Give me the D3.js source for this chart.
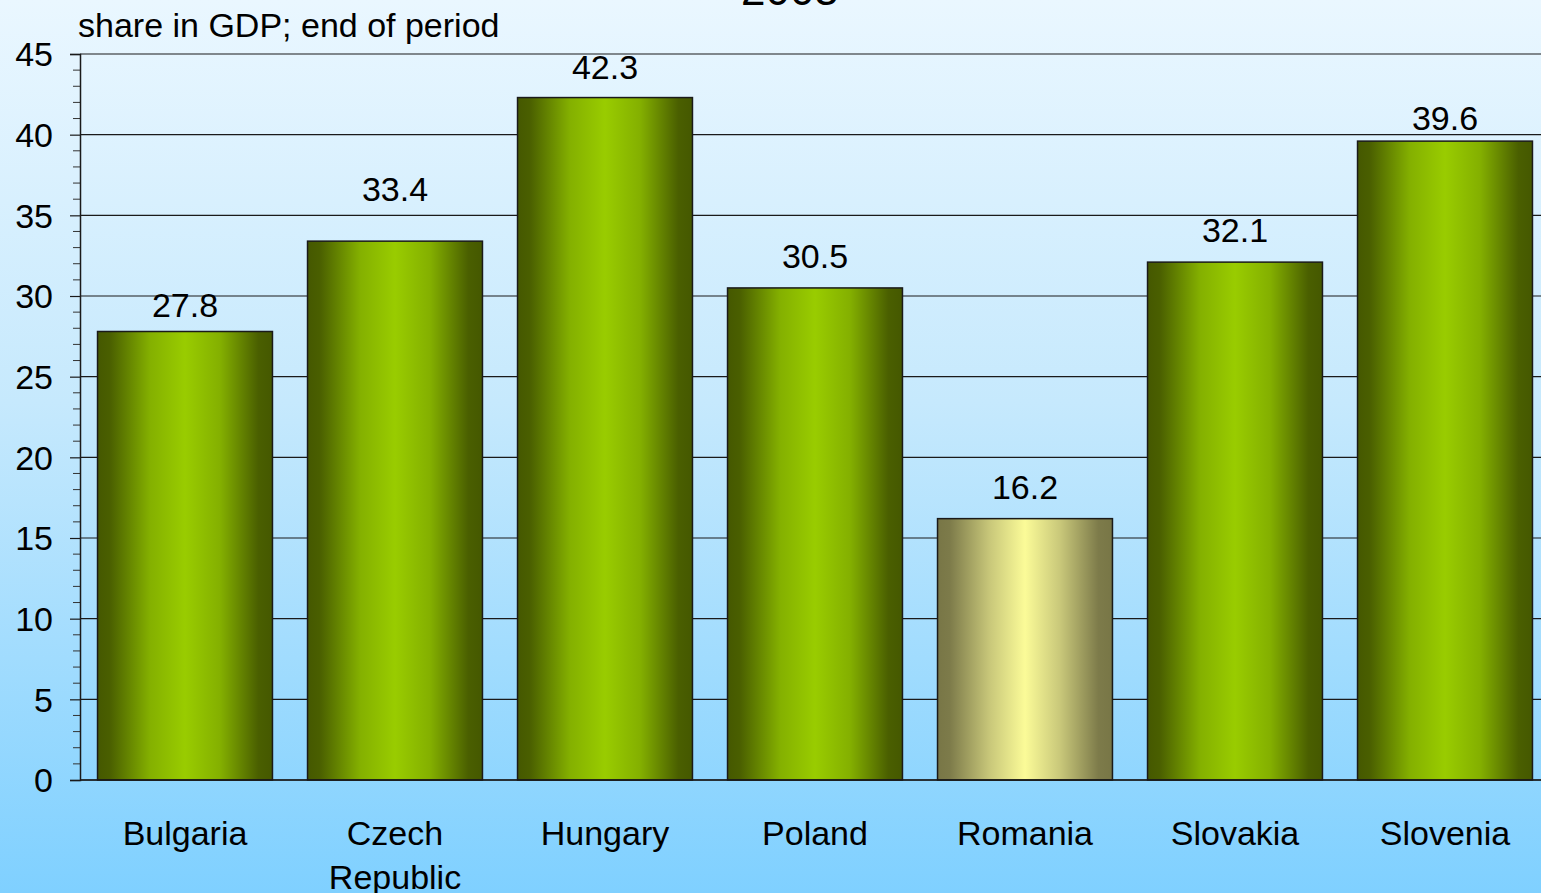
<!DOCTYPE html>
<html><head><meta charset="utf-8">
<script src="https://cdn.jsdelivr.net/npm/d3@7"></script>
<style>html,body{margin:0;padding:0;overflow:hidden;}svg{display:block;}</style>
</head><body>
<svg id="c" width="1541" height="893"></svg>
<script>
const categories = ["Bulgaria", "Czech Republic", "Hungary", "Poland", "Romania", "Slovakia", "Slovenia"];
const values = [27.8, 33.4, 42.3, 30.5, 16.2, 32.1, 39.6];
const highlighted = ["Romania"];
const yTicks = [0, 5, 10, 15, 20, 25, 30, 35, 40, 45];
const title = "2005";
const subtitle = "share in GDP; end of period";
// layout only: gap (px) between bar top and value label baseline, as placed in the original
const labelGap = [14, 40, 19, 20, 20, 20, 11];

const W = 1541, H = 893;
const svg = d3.select("#c");
const defs = svg.append("defs");

const bg = defs.append("linearGradient").attr("id","bg").attr("x1",0).attr("y1",0).attr("x2",0).attr("y2",1);
bg.append("stop").attr("offset","0%").attr("stop-color","#eaf7ff");
bg.append("stop").attr("offset","45%").attr("stop-color","#c6e9fd");
bg.append("stop").attr("offset","100%").attr("stop-color","#7fd0ff");
svg.append("rect").attr("width",W).attr("height",H).attr("fill","url(#bg)");

function hgrad(id, stops){
  const g = defs.append("linearGradient").attr("id",id).attr("x1",0).attr("y1",0).attr("x2",1).attr("y2",0);
  stops.forEach(s=>g.append("stop").attr("offset",s[0]).attr("stop-color",s[1]));
}
hgrad("gGreen",[["0%","#455800"],["7%","#4a5f00"],["30%","#84b000"],["50%","#99cc00"],["70%","#84b000"],["92%","#4a5f00"],["100%","#455800"]]);
hgrad("gYellow",[["0%","#787646"],["7%","#7d7b4a"],["30%","#c9c87a"],["50%","#fbfb98"],["70%","#c9c87a"],["92%","#7d7b4a"],["100%","#787646"]]);

const x0 = 80, x1 = 1550, yTop = 54, yBot = 780;
const x = d3.scaleBand().domain(categories).range([x0, x1]).paddingInner(0.167).paddingOuter(0.0835);
const y = d3.scaleLinear().domain([0,45]).range([yBot, yTop]);

const font = "'Liberation Sans', Arial, sans-serif";

// grid
svg.append("g").selectAll("line").data(yTicks).join("line")
  .attr("x1",x0).attr("x2",W).attr("y1",d=>y(d)).attr("y2",d=>y(d))
  .attr("stroke","#1a1a1a").attr("stroke-width",1.2);

// minor ticks
const minor = d3.range(0,46,1).filter(v=>v%5!==0);
svg.append("g").selectAll("line").data(minor).join("line")
  .attr("x1",73).attr("x2",x0).attr("y1",d=>y(d)).attr("y2",d=>y(d))
  .attr("stroke","#333").attr("stroke-width",1);

// y axis
const yAxis = d3.axisLeft(y).tickValues(yTicks).tickSize(10).tickPadding(4);
const ga = svg.append("g").attr("transform",`translate(${x0},0)`).call(yAxis);
ga.select(".domain").attr("stroke","#1a1a1a").attr("stroke-width",1.5);
ga.selectAll(".tick line").attr("stroke","#1a1a1a").attr("stroke-width",1.2);
ga.selectAll(".tick text").attr("font-family",font).attr("font-size",34).attr("fill","#000").attr("x",-27).attr("dy","0.35em");

// bars
svg.append("g").selectAll("rect").data(categories).join("rect")
  .attr("x",d=>x(d)).attr("width",x.bandwidth())
  .attr("y",(d,i)=>y(values[i])).attr("height",(d,i)=>yBot - y(values[i]))
  .attr("fill",d=>highlighted.includes(d)?"url(#gYellow)":"url(#gGreen)")
  .attr("stroke","#1a1a1a").attr("stroke-width",1.5);

// x axis baseline
svg.append("line").attr("x1",x0).attr("x2",W).attr("y1",yBot).attr("y2",yBot).attr("stroke","#1a1a1a").attr("stroke-width",1.5);

// value labels
svg.append("g").selectAll("text").data(categories).join("text")
  .attr("x",d=>x(d)+x.bandwidth()/2).attr("y",(d,i)=>y(values[i]) - labelGap[i])
  .attr("text-anchor","middle").attr("font-family",font).attr("font-size",34).attr("fill","#000")
  .text((d,i)=>values[i].toFixed(1));

// category labels
const cl = svg.append("g").selectAll("text").data(categories).join("text")
  .attr("x",d=>x(d)+x.bandwidth()/2).attr("y",845)
  .attr("text-anchor","middle").attr("font-family",font).attr("font-size",34).attr("fill","#000");
cl.each(function(d){
  const parts = d==="Czech Republic" ? ["Czech","Republic"] : [d];
  const t = d3.select(this);
  parts.forEach((p,i)=>t.append("tspan").attr("x",x(d)+x.bandwidth()/2).attr("dy", i===0?0:44).text(p));
});

// title & subtitle
svg.append("text").attr("x",790).attr("y",5).attr("text-anchor","middle").attr("font-family",font).attr("font-size",44).attr("fill","#000").text(title);
svg.append("text").attr("x",78).attr("y",37).attr("font-family",font).attr("font-size",34).attr("fill","#000").text(subtitle);
</script>
</body></html>
